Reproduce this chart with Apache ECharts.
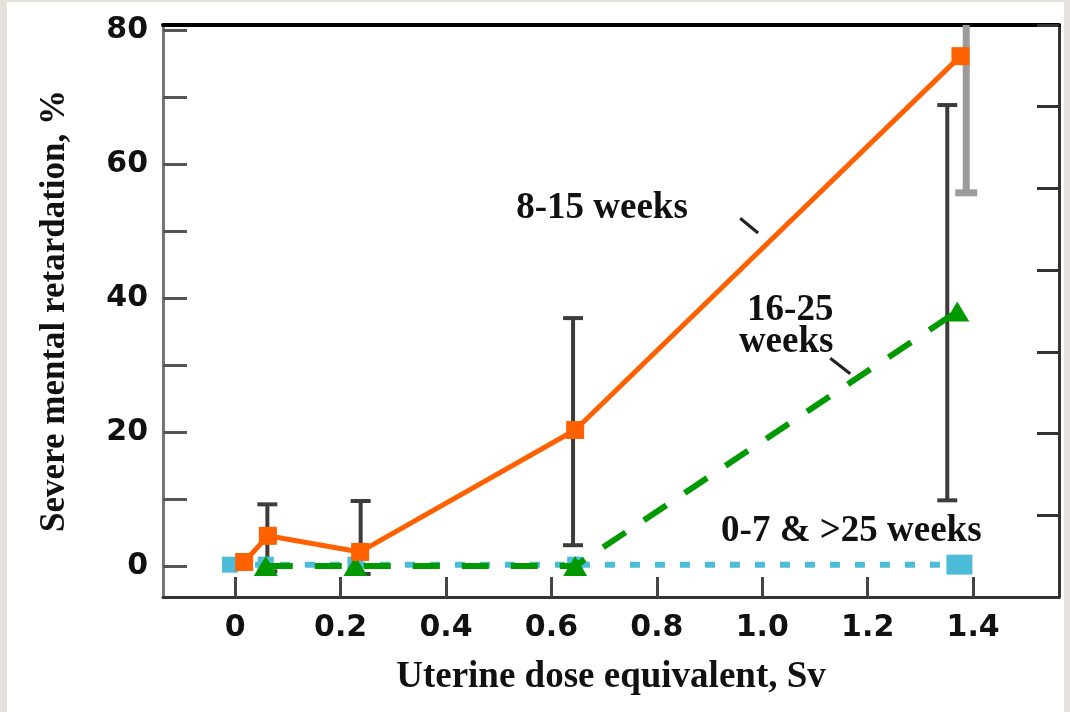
<!DOCTYPE html>
<html><head><meta charset="utf-8">
<script src="https://cdn.jsdelivr.net/npm/echarts@6/dist/echarts.min.js"></script>
<style>html,body{margin:0;padding:0;background:#e5e2dc;} #c{width:1070px;height:712px;}</style>
</head><body><div id="c"></div>
<script>
// ---- data ----
const xTicks = [0, 0.2, 0.4, 0.6, 0.8, 1.0, 1.2, 1.4];
const xTickLabels = ['0', '0.2', '0.4', '0.6', '0.8', '1.0', '1.2', '1.4'];
const yTicks = [0, 10, 20, 30, 40, 50, 60, 70, 80];
const yLabelValues = [0, 20, 40, 60, 80];
const weeks8to15 = [[0.017, 0.6], [0.062, 4.5], [0.237, 2.1], [0.645, 20.3], [1.376, 76.1]];
const weeks16to25 = [[0.058, 0], [0.228, 0], [0.645, 0], [1.37, 38]];
const weeks0to7 = [[-0.01, 0.2], [0.058, 0.2], [0.228, 0.2], [0.645, 0.2], [1.374, 0.2]];
const errBarsDark = [[0.061, -0.8, 9.2], [0.238, -1.2, 9.7], [0.641, 3.1, 37.0], [1.351, 9.8, 68.8]];
const errBarsLight = [[1.387, 55.7, 97]];
const labelTexts = ['8-15 weeks', '16-25\nweeks', '0-7 & >25 weeks'];
const labelAnchors = [[0.696, 53.4], [1.135, 35.7], [1.169, 5.1]];
const leaderLines = [[[0.958, 51.9], [0.992, 49.7]], [[1.129, 31.0], [1.167, 28.7]]];

const chart = echarts.init(document.getElementById('c'), null, {renderer: 'canvas'});
const sansBold = {fontFamily: 'DejaVu Sans', fontWeight: 'bold', fontSize: 30, color: '#111'};
const serifY = {fontFamily: 'Liberation Serif', fontWeight: 'bold', fontSize: 35, color: '#111'};
const serifX = {fontFamily: 'Liberation Serif', fontWeight: 'bold', fontSize: 37, color: '#111'};

function errRender(color, width, capW) {
  return function (params, api) {
    const x = api.value(0), lo = api.value(1), hi = api.value(2);
    const cs = params.coordSys;
    const pLo = api.coord([x, lo]), pHi = api.coord([x, hi]);
    const top = Math.max(pHi[1], cs.y), bot = Math.min(pLo[1], cs.y + cs.height);
    const st = {stroke: color, lineWidth: width};
    const ch = [{type: 'line', shape: {x1: pLo[0], y1: bot, x2: pLo[0], y2: top}, style: st}];
    if (pHi[1] >= cs.y) ch.push({type: 'line', shape: {x1: pHi[0] - capW / 2, y1: pHi[1], x2: pHi[0] + capW / 2, y2: pHi[1]}, style: st});
    if (pLo[1] <= cs.y + cs.height) ch.push({type: 'line', shape: {x1: pLo[0] - capW / 2, y1: pLo[1], x2: pLo[0] + capW / 2, y2: pLo[1]}, style: st});
    return {type: 'group', children: ch};
  };
}

const X_MIN = -0.137, X_MAX = 1.563, Y_MIN = -4.63, Y_MAX = 80.75;

chart.setOption({
  animation: false,
  backgroundColor: '#e5e2dc',
  grid: {left: 163, right: 11, top: 25, bottom: 115, containLabel: false},
  xAxis: [{
    type: 'value', min: X_MIN, max: X_MAX, position: 'bottom',
    name: 'Uterine dose equivalent, Sv', nameLocation: 'middle', nameGap: 62,
    nameTextStyle: serifX,
    axisLine: {show: true, onZero: false, lineStyle: {color: '#333', width: 3}},
    axisTick: {show: true, inside: true, length: 20, customValues: xTicks, lineStyle: {color: '#444', width: 3}},
    axisLabel: {customValues: xTicks, margin: 16, formatter: v => xTickLabels[xTicks.indexOf(+v.toFixed(2))] ?? '', ...sansBold},
    splitLine: {show: false}
  }, {
    type: 'value', min: X_MIN, max: X_MAX, position: 'top',
    axisLine: {show: true, onZero: false, lineStyle: {color: '#000', width: 4}},
    axisTick: {show: false}, axisLabel: {show: false}, splitLine: {show: false}
  }],
  yAxis: [{
    type: 'value', min: Y_MIN, max: Y_MAX, position: 'left',
    name: 'Severe mental retardation, %', nameLocation: 'middle', nameGap: 91,
    nameTextStyle: serifY,
    axisLine: {show: true, onZero: false, lineStyle: {color: '#777', width: 3}},
    axisTick: {show: true, inside: true, length: 24, customValues: yTicks, lineStyle: {color: '#555', width: 3}},
    axisLabel: {customValues: yLabelValues, margin: 15, formatter: v => String(Math.round(v)), ...sansBold},
    splitLine: {show: false}
  }, {
    type: 'value', min: 0, max: 7, interval: 1, position: 'right',
    axisLine: {show: true, onZero: false, lineStyle: {color: '#333', width: 3}},
    axisTick: {show: true, inside: true, length: 22, lineStyle: {color: '#333', width: 3}},
    axisLabel: {show: false}, splitLine: {show: false}
  }],
  series: [
    {type: 'custom', name: 'errDark', data: errBarsDark, renderItem: errRender('#3c3c3c', 4, 20), encode: {x: 0, y: [1, 2]}, z: 1, clip: false},
    {type: 'custom', name: 'errLight', data: errBarsLight, renderItem: errRender('#9b9b9b', 7, 22), encode: {x: 0, y: [1, 2]}, z: 1, clip: false},
    {type: 'line', name: '0-7 & >25 weeks', data: weeks0to7, z: 2,
     symbol: 'rect', symbolSize: (v, p) => p.dataIndex === weeks0to7.length - 1 ? [26, 20] : 16,
     itemStyle: {color: '#4dbcd9'}, lineStyle: {color: '#4dbcd9', width: 6, type: [10, 15], cap: 'butt'}},
    {type: 'line', name: '16-25 weeks', data: weeks16to25, z: 3,
     symbol: 'triangle', symbolSize: [24, 20],
     itemStyle: {color: '#009900'}, lineStyle: {color: '#009900', width: 6, type: [27, 22], cap: 'butt'}},
    {type: 'line', name: '8-15 weeks', data: weeks8to15, z: 4,
     symbol: 'rect', symbolSize: 18,
     itemStyle: {color: '#ff6000'}, lineStyle: {color: '#ff6000', width: 5}}
  ]
});

// annotations positioned from data coordinates
const g = [{type: 'rect', z: -10, silent: true, shape: {x: 7, y: 2, width: 1057, height: 712}, style: {fill: '#ffffff'}}];
const aligns = ['center', 'right', 'center'];
labelTexts.forEach((t, i) => {
  const p = chart.convertToPixel({gridIndex: 0}, labelAnchors[i]);
  g.push({type: 'text', z: 50, x: p[0], y: p[1], style: {text: t, align: aligns[i], verticalAlign: 'middle', lineHeight: 32,
    font: 'bold 37px "Liberation Serif"', fill: '#111'}});
});
leaderLines.forEach(l => {
  const a = chart.convertToPixel({gridIndex: 0}, l[0]), b = chart.convertToPixel({gridIndex: 0}, l[1]);
  g.push({type: 'line', z: 50, shape: {x1: a[0], y1: a[1], x2: b[0], y2: b[1]}, style: {stroke: '#222', lineWidth: 3}});
});
chart.setOption({graphic: g});
</script></body></html>
